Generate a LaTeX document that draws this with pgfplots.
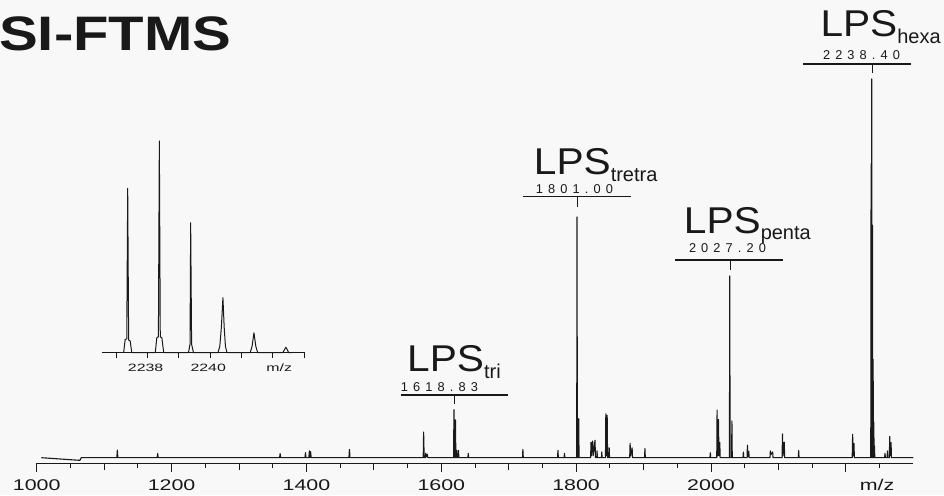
\documentclass[border=0pt]{standalone}
\usepackage{graphicx}
\usepackage{pgfplots}
\pgfplotsset{compat=1.18}
\usepackage{pgfplotstable}
\usepackage{fontspec}
\setmainfont{Liberation Sans}
\newfontfamily\numfont[LetterSpace=40]{Liberation Sans}
\definecolor{bg}{RGB}{248,248,248}
\definecolor{ink}{RGB}{25,25,25}

% main spectrum (m/z, relative intensity)
\pgfplotstableread{
x y
1007 0
1064 -0.7
1066 0
1118.8 0
1119.6 2.0
1120.4 0
1178.6 0
1179.4 1.1
1180.2 0
1360.2 0
1361 1.1
1361.8 0
1397.8 0
1398.6 1.3
1399.4 0
1403.6 0
1404.4 1.8
1405.2 0
1406.2 1.6
1407 0
1463 0
1463.8 2.2
1464.6 0
1573.2 0
1573.8 6.8
1574.6 0
1576.2 0
1577 1.2
1577.8 0.2
1579.2 0.9
1580 0
1618.2 0
1618.8 12.7
1619.4 0
1620.4 0
1621 10.0
1621.6 0
1622.4 0
1623 1.9
1623.6 0
1624.9 0
1625.5 1.9
1626.1 0
1639.4 0
1640 1.1
1640.6 0
1720.4 0
1721 2.2
1721.6 0
1772.4 0
1773 1.9
1773.6 0
1782.1 0
1782.7 1.1
1783.3 0
1800.8 0
1801.3 63.6
1801.8 0
1803.3 0
1803.8 10.3
1804.3 0
1821.5 0
1822 4.1
1822.6 0.5
1824.5 4.4
1825.2 0.5
1828 4.6
1828.6 0
1830.5 0
1831 1.8
1831.5 0
1837.5 0
1838 1.5
1838.5 0
1843.5 0
1844 11.6
1844.8 0.5
1846 11.2
1846.6 0
1848.5 0
1849 2.6
1849.5 0
1879.4 0
1880 3.8
1880.8 0.5
1883 2.6
1883.6 0
1901.4 0
1902 2.4
1902.6 0
1998.4 0
1999 1.3
1999.6 0
2008.5 0
2009 12.6
2009.8 0.5
2011 10.1
2011.8 0.5
2013 4.0
2013.6 0
2027.3 0
2027.8 48.0
2028.3 0
2030.5 0
2031 9.7
2031.5 0
2047.4 0
2048 1.5
2048.6 0
2053.4 0
2054 3.3
2054.8 0.3
2056 1.7
2056.6 0
2087.4 0
2088 1.8
2088.8 0.8
2091.4 1.5
2092 0
2105.4 0
2106 6.3
2106.8 0.5
2108.6 4.1
2109.2 0
2129.4 0
2130 1.9
2130.6 0
2209.4 0
2210 6.2
2210.8 0.5
2212 3.8
2212.6 0
2236.9 0
2237.4 77.6
2237.9 0
2238.4 100
2238.9 0
2239.4 61.4
2239.9 0
2240.4 26
2240.9 0
2241.4 9.4
2241.9 0
2242.4 3.1
2242.9 0
2257.4 0
2258 1.1
2258.6 0
2261.1 0
2261.7 1.8
2262.3 0
2264.5 0
2265 5.6
2265.8 0.5
2267 4.0
2267.6 0
2300 0
}\mainspec

% inset: isotope pattern of LPS hexa
\pgfplotstableread{
x y
2237.24 0
2237.29 6.3
2237.34 6.5
2237.37 77.6
2237.40 6.0
2237.45 5.5
2237.50 0
2238.25 0
2238.30 7.1
2238.35 7.5
2238.38 100
2238.41 7.5
2238.46 7.1
2238.52 0
2239.31 0
2239.36 4
2239.38 61.4
2239.41 4
2239.47 0
2240.25 0
2240.31 3
2240.36 12
2240.41 26
2240.45 12
2240.49 3
2240.54 0
2241.28 0
2241.34 3
2241.40 9.4
2241.46 3
2241.52 0
2242.32 0
2242.42 2.6
2242.51 0
2242.60 0
}\insetspec

\newcommand{\tl}[1]{\scalebox{1.38}[1]{\fontsize{15.5}{16}\selectfont #1}}
\newcommand{\til}[1]{\scalebox{1.5}[1]{\fontsize{10.6}{11}\selectfont #1}}
\newcommand{\lps}[1]{\scalebox{1.09}[1]{\fontsize{37.3}{38}\selectfont LPS}\raisebox{-6.6pt}{\fontsize{20}{20}\selectfont #1}}
\newcommand{\mz}[1]{{\numfont\fontsize{12.8}{13}\selectfont #1}}

\begin{document}
\begin{tikzpicture}
\fill[bg] (0pt,0pt) rectangle (944pt,495pt);

\begin{axis}[
  at={(36.7pt,31.7pt)}, anchor=south west,
  scale only axis, width=876.6pt, height=384.3pt,
  xmin=1000, xmax=2300, ymin=-1.48, ymax=100,
  axis x line=bottom, axis y line=none,
  x axis line style={-, line width=1pt, ink},
  xtick={1000,1200,...,2200}, xticklabels={},
  minor xtick={1050,1150,...,2250},
  extra x ticks={1100,1300,1500,1700,1900,2100},
  extra x tick labels={},
  extra x tick style={major tick length=6.7pt},
  ytick=\empty,
  tick align=outside,
  major tick length=8.3pt, minor tick length=5pt,
  tick style={line width=0.9pt, ink},
  clip=false,
]
\addplot[ink, line width=1.1pt, line join=round, no markers] table[x=x,y=y] {\mainspec};
\end{axis}

\begin{axis}[
  at={(101.7pt,142.3pt)}, anchor=south west,
  scale only axis, width=203.3pt, height=211.7pt,
  xmin=2236.54, xmax=2243.03, ymin=0, ymax=100,
  axis x line=bottom, axis y line=none,
  x axis line style={-, line width=1pt, ink},
  xtick={2237,2238,...,2243}, xticklabels={},
  ytick=\empty,
  tick align=outside,
  major tick length=5.7pt,
  tick style={line width=0.9pt, ink},
  clip=false,
]
\addplot[ink, line width=1pt, line join=round, no markers] table[x=x,y=y] {\insetspec};
\end{axis}

\begin{scope}[x=1pt, y=-1pt, shift={(0pt,495pt)}, every node/.style={inner sep=0pt, text=ink}]
  % title
  \node[anchor=base west] at (-1,50.7) {\scalebox{1.2}[1]{\bfseries\fontsize{48.4}{50}\selectfont SI-FTMS}};
  % main tick labels
  \node[anchor=base] at (36.7,490) {\tl{1000}};
  \node[anchor=base] at (171.6,490) {\tl{1200}};
  \node[anchor=base] at (306.4,490) {\tl{1400}};
  \node[anchor=base] at (441.3,490) {\tl{1600}};
  \node[anchor=base] at (576.1,490) {\tl{1800}};
  \node[anchor=base] at (711.0,490) {\tl{2000}};
  \node[anchor=base] at (877,490) {\tl{m/z}};
  % inset tick labels
  \node[anchor=base] at (145.6,372) {\til{2238}};
  \node[anchor=base] at (208.2,372) {\til{2240}};
  \node[anchor=base] at (279.2,372) {\til{m/z}};
  % annotations
  \draw[line width=1.1pt, ink] (400.7,395) -- (508,395);
  \draw[line width=0.9pt, ink] (454.3,395) -- (454.3,404);
  \node[anchor=base west] at (407,371.7) {\lps{tri}};
  \node[anchor=base west] at (400.7,391.7) {\mz{1618.83}};

  \draw[line width=1.1pt, ink] (522.7,196.7) -- (630.7,196.7);
  \draw[line width=0.9pt, ink] (577,196.7) -- (577,206.7);
  \node[anchor=base west] at (533.7,175) {\lps{tretra}};
  \node[anchor=base west] at (535.7,193.3) {\mz{1801.00}};

  \draw[line width=1.1pt, ink] (675,260) -- (783.3,260);
  \draw[line width=0.9pt, ink] (730,260) -- (730,270);
  \node[anchor=base west] at (683.7,233.3) {\lps{penta}};
  \node[anchor=base west] at (688.8,252.3) {\mz{2027.20}};

  \draw[line width=1.1pt, ink] (803.3,64) -- (910.7,64);
  \draw[line width=0.9pt, ink] (872.3,64) -- (872.3,72.7);
  \node[anchor=base west] at (820.3,36.7) {\lps{hexa}};
  \node[anchor=base west] at (822.8,59.3) {\mz{2238.40}};
\end{scope}

\pgfresetboundingbox
\useasboundingbox (0pt,0pt) rectangle (944pt,495pt);
\end{tikzpicture}
\end{document}
